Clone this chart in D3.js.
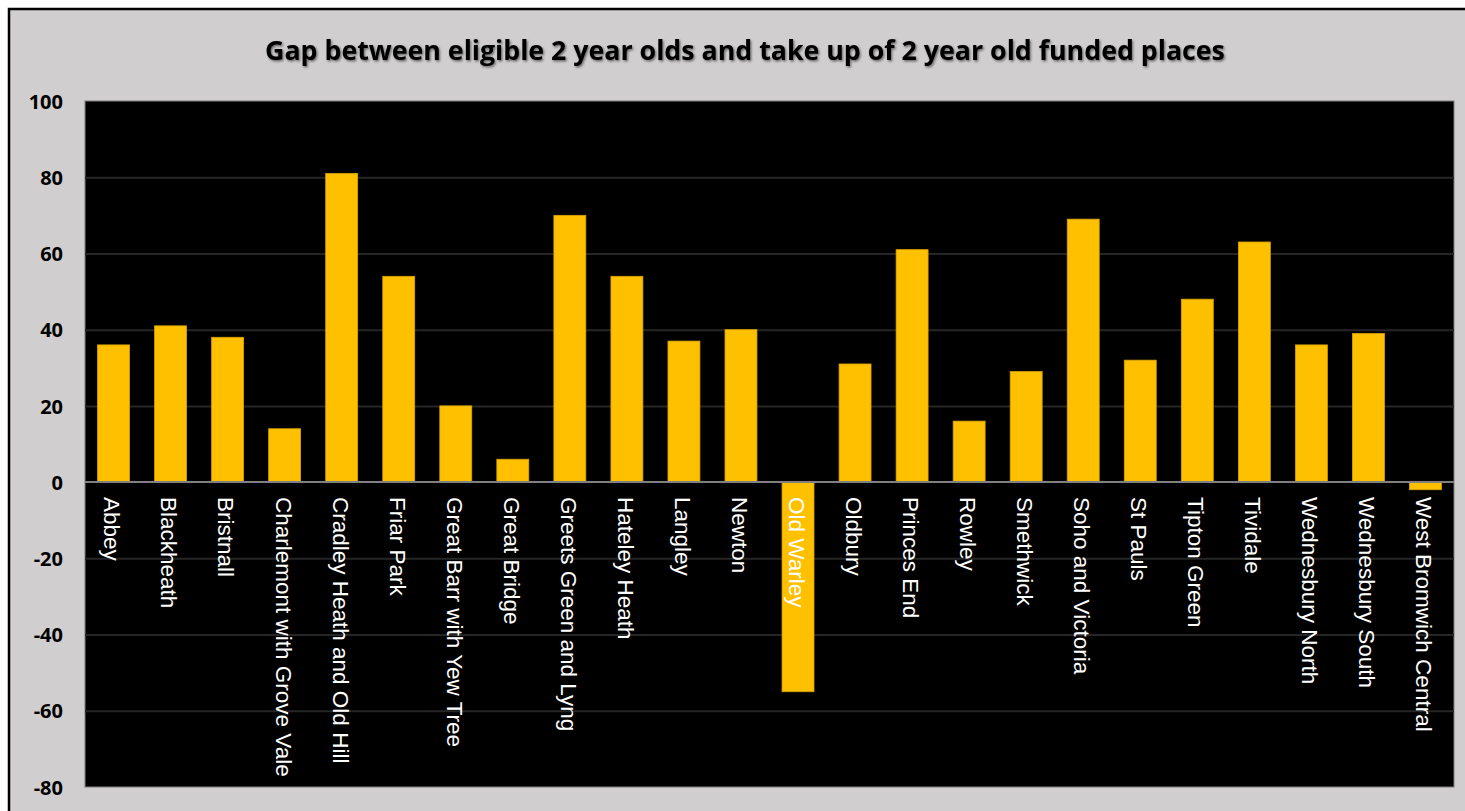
<!DOCTYPE html>
<html>
<head>
<meta charset="utf-8">
<script src="https://cdn.jsdelivr.net/npm/d3@7"></script>
<style>
  html, body { margin: 0; padding: 0; background: #ffffff; }
  svg { display: block; }
</style>
</head>
<body>
<svg id="chart" width="1465" height="811"></svg>
<script>
const title = "Gap between eligible 2 year olds and take up of 2 year old funded places";
const categories = [
  "Abbey", "Blackheath", "Bristnall", "Charlemont with Grove Vale",
  "Cradley Heath and Old Hill", "Friar Park", "Great Barr with Yew Tree",
  "Great Bridge", "Greets Green and Lyng", "Hateley Heath", "Langley",
  "Newton", "Old Warley", "Oldbury", "Princes End", "Rowley", "Smethwick",
  "Soho and Victoria", "St Pauls", "Tipton Green", "Tividale",
  "Wednesbury North", "Wednesbury South", "West Bromwich Central"
];
const gapValues = [36, 41, 38, 14, 81, 54, 20, 6, 70, 54, 37, 40, -55, 31, 61, 16, 29, 69, 32, 48, 63, 36, 39, -2];
const yTicks = [-80, -60, -40, -20, 0, 20, 40, 60, 80, 100];

const svg = d3.select("#chart");
const W = 1465, H = 811;
const plot = { left: 85, top: 101, right: 1454, bottom: 787 };

// outer frame
svg.append("rect")
  .attr("x", 9).attr("y", 9).attr("width", W + 20).attr("height", H + 20)
  .attr("fill", "#d0cece").attr("stroke", "#000").attr("stroke-width", 2.5);

const defs = svg.append("defs");
const f = defs.append("filter").attr("id", "shadow").attr("x", "-5%").attr("y", "-30%").attr("width", "110%").attr("height", "160%");
f.append("feDropShadow").attr("dx", 1.2).attr("dy", 1.5).attr("stdDeviation", 1.3)
  .attr("flood-color", "#000").attr("flood-opacity", 0.5);

const x = d3.scaleBand().domain(categories).range([plot.left, plot.right]).paddingInner(0.44).paddingOuter(0.22);
const y = d3.scaleLinear().domain([-80, 100]).range([plot.bottom, plot.top]);

// plot background
svg.append("rect")
  .attr("x", plot.left).attr("y", plot.top)
  .attr("width", plot.right - plot.left).attr("height", plot.bottom - plot.top)
  .attr("fill", "#000").attr("stroke", "#7f7f7f").attr("stroke-width", 1);

// gridlines
const grid = svg.append("g").attr("transform", `translate(${plot.left},0)`)
  .call(d3.axisLeft(y).tickValues(yTicks.filter(t => t !== 0 && t !== 100 && t !== -80)).tickSize(-(plot.right - plot.left)).tickFormat(""));
grid.select(".domain").remove();
grid.selectAll(".tick line").attr("stroke", "#262626").attr("stroke-width", 2);

// bars
svg.append("g").selectAll("rect").data(categories).join("rect")
  .attr("x", d => x(d))
  .attr("width", x.bandwidth())
  .attr("y", (d, i) => y(Math.max(0, gapValues[i])))
  .attr("height", (d, i) => Math.abs(y(gapValues[i]) - y(0)))
  .attr("fill", "#ffc000")
  .attr("stroke", "#d9a300").attr("stroke-width", 0.8);

// zero line
svg.append("line")
  .attr("x1", plot.left).attr("x2", plot.right)
  .attr("y1", y(0)).attr("y2", y(0))
  .attr("stroke", "#808080").attr("stroke-width", 2);

// y axis labels
const yAxis = svg.append("g").attr("transform", `translate(63,0)`)
  .call(d3.axisLeft(y).tickValues(yTicks).tickSize(0).tickPadding(0).tickFormat(d => String(d)));
yAxis.select(".domain").remove();
yAxis.selectAll("text")
  .attr("font-family", "'Open Sans', sans-serif")
  .attr("font-weight", "bold")
  .attr("font-size", 20)
  .attr("fill", "#000")
  .attr("dy", "0.36em");

// category labels
svg.append("g").selectAll("text").data(categories).join("text")
  .attr("transform", d => `translate(${x(d) + x.bandwidth() / 2 - 1},497) rotate(90)`)
  .attr("dy", "0.36em")
  .attr("font-family", "'Liberation Sans', Arial, sans-serif")
  .attr("font-size", 22.5)
  .attr("fill", "#fff")
  .text(d => d);

// title
const t = svg.append("text")
  .attr("x", 745).attr("y", 60)
  .attr("text-anchor", "middle")
  .attr("font-family", "'Open Sans', sans-serif")
  .attr("font-weight", "bold")
  .attr("font-size", 24)
  .attr("fill", "#000")
  .attr("filter", "url(#shadow)")
  .text(title);
const len = t.node().getComputedTextLength();
t.attr("font-size", 24 * 960 / len);
</script>
</body>
</html>
